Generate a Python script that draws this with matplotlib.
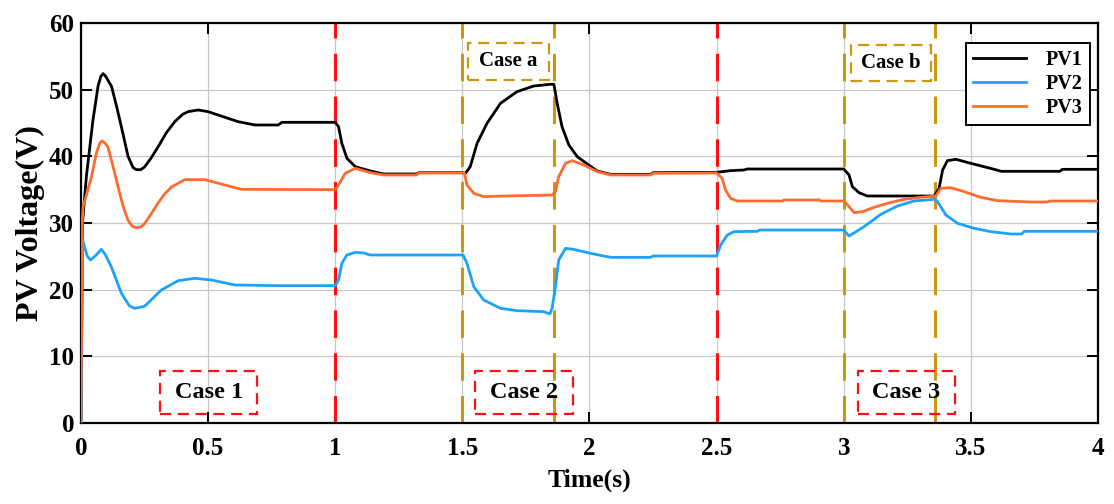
import matplotlib
matplotlib.use('Agg')
import matplotlib.pyplot as plt
from matplotlib.patches import Rectangle

# valores (tiempo en s, tension en V)
t_pv1 = [0, 0.006, 0.021, 0.035, 0.047, 0.067, 0.078, 0.087, 0.097, 0.12, 0.14, 0.159, 0.185, 0.205,
         0.218, 0.235, 0.25, 0.275, 0.303, 0.335, 0.369, 0.4, 0.421, 0.461, 0.5, 0.539, 0.618, 0.684,
         0.776, 0.79, 1.0, 1.013, 1.026, 1.046, 1.079, 1.138, 1.19, 1.32,
         1.33, 1.5, 1.512, 1.531, 1.558, 1.597, 1.65, 1.715, 1.781, 1.846, 1.86, 1.873, 1.892, 1.919,
         1.952, 1.979, 2.03, 2.083, 2.24, 2.25, 2.5, 2.555, 2.608, 2.62, 3.0, 3.021, 3.034, 3.06, 3.093,
         3.356, 3.375, 3.389, 3.408, 3.441, 3.5, 3.592, 3.62, 3.85, 3.86, 4.0]
v_pv1 = [0, 30.0, 36.9, 41.5, 45.4, 50.5, 52.0, 52.4, 52.0, 50.5, 47.5, 44.4, 40.0, 38.3,
         38.0, 38.0, 38.4, 39.7, 41.4, 43.5, 45.2, 46.3, 46.7, 46.95, 46.7, 46.2, 45.2, 44.7,
         44.7, 45.1, 45.1, 44.45, 41.95, 39.7, 38.45, 37.8, 37.35, 37.35,
         37.55, 37.55, 37.45, 38.45, 41.95, 44.95, 47.95, 49.7, 50.55, 50.8, 50.8, 47.95, 44.45, 41.7,
         39.95, 39.2, 37.8, 37.3, 37.3, 37.55, 37.6, 37.85, 37.95, 38.1, 38.1, 37.2, 35.45, 34.55, 34.05,
         34.05, 35.2, 37.95, 39.35, 39.55, 38.95, 38.05, 37.75, 37.75, 38.05, 38.05]

t_pv2 = [0, 0.006, 0.01, 0.025, 0.038, 0.06, 0.08, 0.095, 0.119, 0.159, 0.19, 0.211, 0.25, 0.285,
         0.316, 0.382, 0.448, 0.513, 0.605,
         0.776, 1.0, 1.013, 1.026, 1.046, 1.079, 1.111, 1.138, 1.503, 1.518, 1.545, 1.584, 1.65, 1.715,
         1.82, 1.844, 1.853, 1.866, 1.879, 1.906, 1.938, 2.004, 2.083, 2.24, 2.25, 2.5, 2.516, 2.542,
         2.568, 2.66, 2.67, 3.0, 3.021, 3.08, 3.146, 3.211, 3.277, 3.356, 3.369, 3.402, 3.448, 3.513,
         3.579, 3.657, 3.7, 3.71, 4.0]
v_pv2 = [0, 27.5, 26.95, 25.0, 24.45, 25.2, 26.05, 25.3, 23.45, 19.45, 17.6, 17.2, 17.5, 18.8,
         19.95, 21.35, 21.7, 21.45, 20.7,
         20.6, 20.6, 21.45, 23.95, 25.2, 25.6, 25.5, 25.2, 25.2, 23.95, 20.45, 18.45, 17.2, 16.85,
         16.7, 16.35, 17.2, 20.45, 24.45, 26.2, 26.05, 25.45, 24.85, 24.85, 25.05, 25.05, 26.7, 28.2,
         28.7, 28.75, 28.95, 28.95, 28.05, 29.45, 31.3, 32.55, 33.3, 33.55, 33.2, 31.2, 29.95, 29.2,
         28.7, 28.35, 28.35, 28.75, 28.75]

t_pv3 = [0, 0.005, 0.008, 0.041, 0.06, 0.074, 0.083, 0.094, 0.106, 0.126, 0.146, 0.165, 0.185, 0.202,
         0.218, 0.235, 0.25, 0.275, 0.303, 0.33, 0.356, 0.408,
         0.487, 0.566, 0.631, 1.0, 1.013, 1.039, 1.079, 1.138, 1.19, 1.32, 1.33, 1.508, 1.518, 1.545,
         1.584, 1.67, 1.853, 1.866, 1.879, 1.906, 1.932, 1.978, 2.03, 2.083, 2.24, 2.25, 2.5, 2.522,
         2.535, 2.555, 2.581, 2.76, 2.765, 2.905, 2.91, 3.0, 3.015, 3.041, 3.074, 3.119, 3.172, 3.237,
         3.303, 3.362, 3.382, 3.421, 3.474, 3.539, 3.605, 3.736, 3.8, 3.81, 4.0]
v_pv3 = [0, 30.0, 32.4, 36.9, 40.4, 42.0, 42.3, 42.0, 41.4, 38.5, 35.4, 32.6, 30.4, 29.5,
         29.3, 29.4, 29.9, 31.3, 33.0, 34.4, 35.4, 36.5,
         36.5, 35.7, 35.05, 35.0, 35.7, 37.45, 38.2, 37.55, 37.2, 37.2, 37.5, 37.5, 35.7, 34.45,
         33.95, 34.05, 34.2, 34.7, 36.95, 38.95, 39.35, 38.7, 37.7, 37.2, 37.2, 37.45, 37.5, 36.7,
         34.95, 33.7, 33.3, 33.3, 33.45, 33.45, 33.3, 33.3, 32.7, 31.55, 31.7, 32.35, 32.95, 33.55,
         33.85, 34.05, 35.2, 35.3, 34.7, 33.85, 33.35, 33.15, 33.15, 33.3, 33.3]

series_names = ['PV1', 'PV2', 'PV3']
case_lines = [1.0, 2.5]               # cambios de caso (rojo)
sub_lines = [1.5, 1.86, 3.0, 3.36]    # sub-casos a / b (dorado)
xtick_vals = [0, 0.5, 1, 1.5, 2, 2.5, 3, 3.5, 4]
xtick_labels = ['0', '0.5', '1', '1.5', '2', '2.5', '3', '3.5', '4']
ytick_vals = [0, 10, 20, 30, 40, 50, 60]

fuente = 'Liberation Serif'
col_azul = '#1CA2FA'
col_naranja = '#FF6B2E'
col_rojo = '#FF1010'
col_oro = '#C9980E'

fig = plt.figure(figsize=(11.14, 5.04), dpi=100)
ax = fig.add_axes([0.0727, 0.1607, 0.9129, 0.7937])

ax.grid(True, color='#C8C8C8', lw=0.9, zorder=0)
ax.set_axisbelow(True)

dash = (0, (9.0, 5.0))
for x in case_lines:
    ax.axvline(x, color=col_rojo, lw=2.2, ls=dash, zorder=2)
for x in sub_lines:
    ax.axvline(x, color=col_oro, lw=2.2, ls=dash, zorder=2)

ax.plot(t_pv1, v_pv1, color='black', lw=2.0, label=series_names[0], zorder=3)
ax.plot(t_pv2, v_pv2, color=col_azul, lw=2.0, label=series_names[1], zorder=3)
ax.plot(t_pv3, v_pv3, color=col_naranja, lw=2.0, label=series_names[2], zorder=3)

# recuadros de los casos
cajas = [
    ('Case 1', 0.311, 1.35, 0.382, 6.45, col_rojo, 17.5),
    ('Case 2', 1.551, 1.35, 0.386, 6.45, col_rojo, 17.5),
    ('Case 3', 3.055, 1.35, 0.382, 6.45, col_rojo, 17.5),
    ('Case a', 1.524, 51.45, 0.315, 5.55, col_oro, 15),
    ('Case b', 3.028, 51.3, 0.315, 5.4, col_oro, 15),
]
for txt, x0, y0, w, h, c, fs in cajas:
    ax.add_patch(Rectangle((x0, y0), w, h, fill=False, ec=c, lw=1.6,
                           ls=(0, (5, 3)), zorder=4))
    ax.text(x0 + w / 2, y0 + h / 2, txt, ha='center', va='center', fontsize=fs,
            fontfamily=fuente, fontweight='bold', zorder=5)

ax.set_xlim(0, 4)
ax.set_ylim(0, 60)
ax.set_xticks(xtick_vals)
ax.set_xticklabels(xtick_labels)
ax.set_yticks(ytick_vals)
ax.tick_params(direction='in', top=True, right=True, length=8, width=1.4,
               labelsize=18, pad=10)
ax.tick_params(axis='y', pad=5)
for lab in ax.get_xticklabels() + ax.get_yticklabels():
    lab.set_fontfamily(fuente)
    lab.set_fontweight('bold')
for s in ax.spines.values():
    s.set_linewidth(1.6)

ax.set_xlabel('Time(s)', fontsize=18.5, fontfamily=fuente, fontweight='bold', labelpad=6)
ax.set_ylabel('PV Voltage(V)', fontsize=23, fontfamily=fuente, fontweight='bold', labelpad=3)

leg = ax.legend(loc='upper right', bbox_to_anchor=(0.992, 0.95), borderaxespad=0,
                fancybox=False, edgecolor='black', framealpha=1, handlelength=2.6,
                handletextpad=1.0, labelspacing=0.2, borderpad=0.35,
                prop={'family': fuente, 'weight': 'bold', 'size': 14.5})
leg.get_frame().set_linewidth(1.4)
leg.set_zorder(6)

plt.savefig('out.png', dpi=100)
plt.close()
